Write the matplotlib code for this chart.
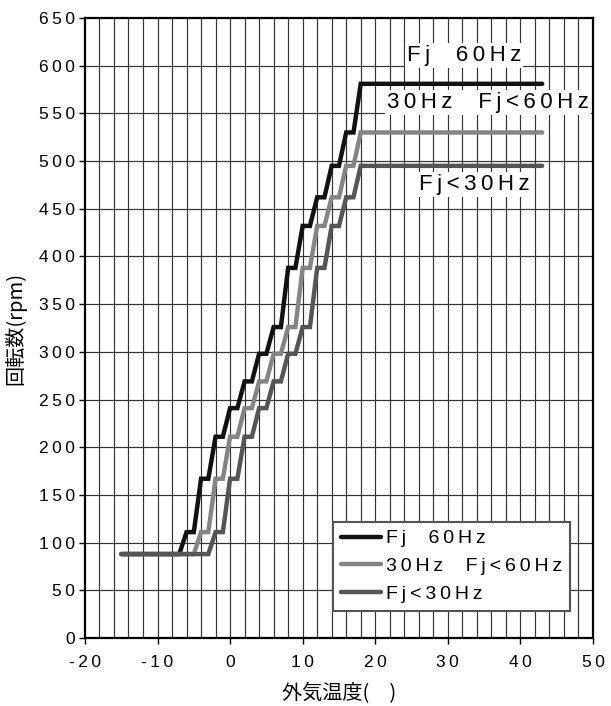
import matplotlib
matplotlib.use('Agg')
import matplotlib.pyplot as plt

plt.rcParams['font.family'] = ['Liberation Sans', 'DejaVu Sans']

# step curves: outdoor temperature vs fan speed, one per frequency band
temp_hi = [-15, -7, -6, -5, -4, -3, -2, -1, 0, 1, 2, 3, 4, 5, 6, 7, 8, 9, 10, 11,
           12, 13, 14, 15, 16, 17, 18, 43]
rpm_hi = [88, 88, 111, 111, 167, 167, 211, 211, 241, 241, 269, 269, 298, 298, 326, 326,
          388, 388, 432, 432, 462, 462, 495, 495, 530, 530, 581, 581]

temp_mid = [-15, -5, -4, -3, -2, -1, 0, 1, 2, 3, 4, 5, 6, 7, 8, 9, 10, 11, 12, 13,
            14, 15, 16, 17, 18, 43]
rpm_mid = [88, 88, 111, 111, 167, 167, 211, 211, 241, 241, 269, 269, 298, 298, 326, 326,
           388, 388, 432, 432, 462, 462, 495, 495, 530, 530]

temp_lo = [-15, -3, -2, -1, 0, 1, 2, 3, 4, 5, 6, 7, 8, 9, 10, 11, 12, 13, 14, 15,
           16, 17, 18, 43]
rpm_lo = [88, 88, 111, 111, 167, 167, 211, 211, 241, 241, 269, 269, 298, 298, 326, 326,
          388, 388, 432, 432, 462, 462, 495, 495]

series_labels = ['Fj  60Hz', '30Hz  Fj<60Hz', 'Fj<30Hz']
series_colors = ['#111111', '#858585', '#555555']

# label positions next to the flat tops (data coords)
note_x = [32.2, 35.5, 33.7]
note_y = [611, 561, 475]

x_ticks = [-20, -10, 0, 10, 20, 30, 40, 50]
y_ticks = [0, 50, 100, 150, 200, 250, 300, 350, 400, 450, 500, 550, 600, 650]

x_label = '外気温度(\u3000)'
y_label = '回転数(rpm)'
cjk = ['Noto Sans CJK JP', 'DejaVu Sans']


def spaced(s):
    # the original uses wide letter spacing
    return '\u2009'.join(s)


fig = plt.figure(figsize=(6.11, 7.06), dpi=100)
ax = fig.add_axes([0.139, 0.0963, 0.8315, 0.8782])

# grid: every 2 deg, every 50 rpm
for gx in range(-18, 50, 2):
    ax.axvline(gx, color='#333333', lw=0.85, zorder=1)
for gy in range(50, 650, 50):
    ax.axhline(gy, color='#333333', lw=0.85, zorder=1)

xs = [temp_hi, temp_mid, temp_lo]
ys = [rpm_hi, rpm_mid, rpm_lo]
for i in range(3):
    ax.plot(xs[i], ys[i], color=series_colors[i], lw=3.2, zorder=3 + i,
            solid_joinstyle='miter', solid_capstyle='round',
            label=spaced(series_labels[i]))

for i in range(3):
    ax.text(note_x[i], note_y[i], spaced(series_labels[i]), ha='center', va='center',
            fontsize=16, zorder=7,
            bbox=dict(fc='white', ec='none', pad=1.5))

ax.set_xlim(-20, 50)
ax.set_ylim(0, 650)
ax.set_xticks(x_ticks)
ax.set_xticklabels([spaced(str(v)) for v in x_ticks])
ax.set_yticks(y_ticks)
ax.set_yticklabels([spaced(str(v)) for v in y_ticks])
ax.tick_params(axis='both', direction='out', length=4, width=1, labelsize=12.5)
ax.tick_params(axis='x', pad=8)
ax.tick_params(axis='y', pad=3)

for sp in ax.spines.values():
    sp.set_linewidth(1.6)
    sp.set_color('black')
    sp.set_zorder(8)

ax.set_xlabel(x_label, family=cjk, fontsize=14.5, labelpad=10)
ax.set_ylabel(y_label, family=cjk, fontsize=14.5)
ax.yaxis.set_label_coords(-0.116, 0.5)

leg = ax.legend(loc='upper left', bbox_to_anchor=(0.488, 0.187), borderaxespad=0,
                fontsize=14, handlelength=2.06, handletextpad=0.26, labelspacing=0.52,
                borderpad=0.4, fancybox=False, framealpha=1)
leg.get_frame().set_edgecolor('#555555')
leg.get_frame().set_linewidth(1.5)
leg.set_zorder(9)

fig.savefig('out.png', dpi=100)
